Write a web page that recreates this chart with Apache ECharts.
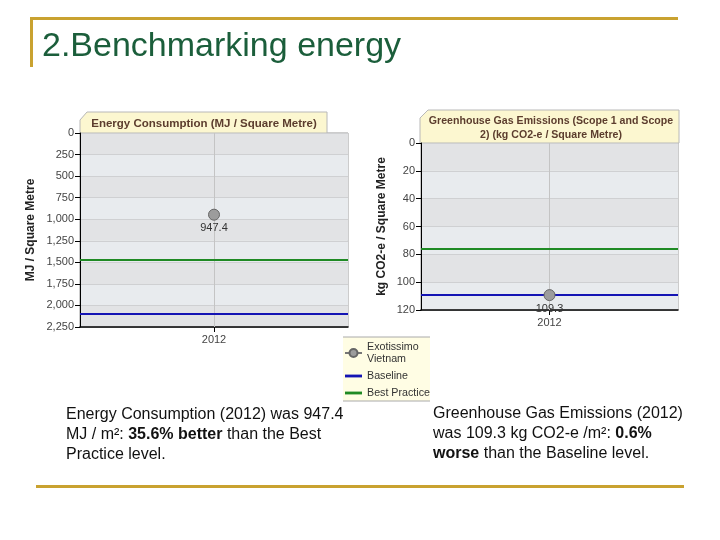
<!DOCTYPE html>
<html>
<head>
<meta charset="utf-8">
<script src="https://cdn.jsdelivr.net/npm/echarts@6/dist/echarts.min.js"></script>
<style>
html,body{margin:0;padding:0;background:#fff;}
#chart{width:720px;height:540px;}
</style>
</head>
<body>
<div id="chart"></div>
<script>
// ---- data ----
const years = ['2012'];
const energyValues = [947.4];
const ghgValues = [109.3];
const benchmarkNames = ['Baseline', 'Best Practice'];
const energyBenchmarks = [2100, 1471];
const ghgBenchmarks = [108.7, 76];
const energyAxisRange = [0, 2250, 250];
const ghgAxisRange = [0, 120, 20];
const siteName = 'Exotissimo Vietnam';

const blue = '#1414b4';
const green = '#1f8a24';
const tickFont = 'Liberation Sans';
const lineIcon = 'path://M0,0 L18,0 L18,3 L0,3 Z';

function yAxisDef(range, name, gap, idx) {
  return {
    type: 'value', gridIndex: idx, inverse: true,
    min: range[0], max: range[1], interval: range[2],
    name: name, nameLocation: 'middle', nameGap: gap, nameRotate: 90,
    nameTextStyle: {fontFamily: tickFont, fontWeight: 'bold', fontSize: 12, color: '#222'},
    axisLine: {show: true, lineStyle: {color: '#000', width: 1}},
    axisTick: {show: true, length: 5, lineStyle: {color: '#000'}},
    axisLabel: {margin: 6, fontFamily: tickFont, fontSize: 11, color: '#444',
      formatter: v => v.toLocaleString('en-US')},
    splitLine: {show: true, lineStyle: {color: '#cfd0d2', width: 1}},
    splitArea: {show: true, areaStyle: {color: ['#e2e3e5', '#e8ebee']}}
  };
}
function xAxisDef(idx) {
  return {
    type: 'category', gridIndex: idx, data: years, boundaryGap: true,
    position: 'bottom',
    axisLine: {onZero: false, lineStyle: {color: '#000', width: 1.5}},
    axisTick: {show: true, alignWithLabel: true, length: 5, lineStyle: {color: '#000'}},
    axisLabel: {margin: 7, fontFamily: tickFont, fontSize: 11, color: '#444'},
    splitLine: {show: false}
  };
}
function benchSeries(i, idx, values, withVertical) {
  const md = [];
  if (withVertical) md.push({xAxis: years[0], lineStyle: {color: '#c4c4c4', width: 1, type: 'solid'}});
  md.push({yAxis: values[i]});
  return {
    name: benchmarkNames[i], type: 'line', xAxisIndex: idx, yAxisIndex: idx,
    data: [], symbol: 'none', z: 2,
    itemStyle: {color: i === 0 ? blue : green},
    lineStyle: {color: i === 0 ? blue : green, width: 3},
    markLine: {
      silent: true, symbol: 'none', animation: false,
      label: {show: false},
      lineStyle: {color: i === 0 ? blue : green, width: 2.2, type: 'solid'},
      data: md
    }
  };
}
function siteSeries(idx, values) {
  return {
    name: siteName, type: 'line', xAxisIndex: idx, yAxisIndex: idx, z: 5,
    data: values, symbol: 'circle', symbolSize: 11,
    itemStyle: {color: '#9c9c9c', borderColor: '#666', borderWidth: 1},
    lineStyle: {color: '#777', width: 1.5},
    label: {show: true, position: 'bottom', distance: 2, fontFamily: tickFont, fontSize: 11, color: '#333'}
  };
}

const chart = echarts.init(document.getElementById('chart'), null, {renderer: 'canvas'});
const titleFill = '#fcf7d0';
const titleStroke = '#b8b8b8';
const titleColor = '#5c3d2e';
chart.setOption({
  backgroundColor: '#fff',
  animation: false,
  grid: [
    {left: 80, top: 133, width: 268, height: 194, show: true, backgroundColor: '#e6e6e6', borderColor: '#999', borderWidth: 1},
    {left: 421, top: 143, width: 257, height: 167, show: true, backgroundColor: '#e6e6e6', borderColor: '#999', borderWidth: 1}
  ],
  xAxis: [xAxisDef(0), xAxisDef(1)],
  yAxis: [
    yAxisDef(energyAxisRange, 'MJ / Square Metre', 43, 0),
    yAxisDef(ghgAxisRange, 'kg CO2-e / Square Metre', 33, 1)
  ],
  legend: {
    orient: 'vertical', left: 344, top: 341, padding: 0, itemWidth: 17, itemHeight: 10, itemGap: 5,
    data: [
      {name: siteName},
      {name: benchmarkNames[0], icon: lineIcon},
      {name: benchmarkNames[1], icon: lineIcon}
    ],
    formatter: n => n === siteName ? 'Exotissimo\nVietnam' : n,
    textStyle: {fontFamily: tickFont, fontSize: 10.7, color: '#333', lineHeight: 12},
    selectedMode: false
  },
  series: [
    benchSeries(0, 0, energyBenchmarks, true),
    benchSeries(1, 0, energyBenchmarks, false),
    siteSeries(0, energyValues),
    benchSeries(0, 1, ghgBenchmarks, true),
    benchSeries(1, 1, ghgBenchmarks, false),
    siteSeries(1, ghgValues)
  ],
  graphic: [
    // gold rules
    {type: 'rect', shape: {x: 30, y: 17, width: 648, height: 3}, style: {fill: '#c9a230'}},
    {type: 'rect', shape: {x: 30, y: 17, width: 3, height: 50}, style: {fill: '#c9a230'}},
    {type: 'rect', shape: {x: 36, y: 485, width: 648, height: 3}, style: {fill: '#c9a230'}},
    // header
    {type: 'text', style: {x: 42, y: 47, text: '2.Benchmarking energy', verticalAlign: 'middle',
      font: '34px "Liberation Sans", Arial, sans-serif', fill: '#1b5e3b'}},
    // title tabs
    {type: 'polygon', shape: {points: [[80, 133], [80, 120], [87, 112], [327, 112], [327, 133]]},
      style: {fill: titleFill, stroke: titleStroke, lineWidth: 1}},
    {type: 'text', style: {x: 204, y: 124, text: 'Energy Consumption (MJ / Square Metre)', align: 'center', verticalAlign: 'middle',
      font: 'bold 11.5px "Liberation Sans", Arial, sans-serif', fill: titleColor}},
    {type: 'polygon', shape: {points: [[420, 143], [420, 118], [428, 110], [679, 110], [679, 143]]},
      style: {fill: titleFill, stroke: titleStroke, lineWidth: 1}},
    {type: 'text', style: {x: 551, y: 128, text: 'Greenhouse Gas Emissions (Scope 1 and Scope\n2) (kg CO2-e / Square Metre)', align: 'center', verticalAlign: 'middle',
      lineHeight: 13.5, font: 'bold 10.6px "Liberation Sans", Arial, sans-serif', fill: titleColor}},
    // legend box
    {type: 'rect', shape: {x: 343, y: 337, width: 87, height: 64}, style: {fill: '#fffde4'}},
    {type: 'line', shape: {x1: 343, y1: 337, x2: 430, y2: 337}, style: {stroke: '#aaa', lineWidth: 1}},
    {type: 'line', shape: {x1: 343, y1: 401, x2: 430, y2: 401}, style: {stroke: '#aaa', lineWidth: 1}},
    // paragraphs
    {type: 'text', style: {x: 66, y: 405,
      text: 'Energy Consumption (2012) was 947.4\nMJ / m²: {b|35.6% better} than the Best\nPractice level.',
      font: '16px "Liberation Sans", Arial, sans-serif', fill: '#111', lineHeight: 20,
      rich: {b: {fontWeight: 'bold', fontSize: 16, fontFamily: 'Liberation Sans', lineHeight: 20}}}},
    {type: 'text', style: {x: 433, y: 404,
      text: 'Greenhouse Gas Emissions (2012)\nwas 109.3 kg CO2-e /m²: {b|0.6%}\n{b|worse} than the Baseline level.',
      font: '16px "Liberation Sans", Arial, sans-serif', fill: '#111', lineHeight: 20,
      rich: {b: {fontWeight: 'bold', fontSize: 16, fontFamily: 'Liberation Sans', lineHeight: 20}}}}
  ]
});
</script>
</body>
</html>
